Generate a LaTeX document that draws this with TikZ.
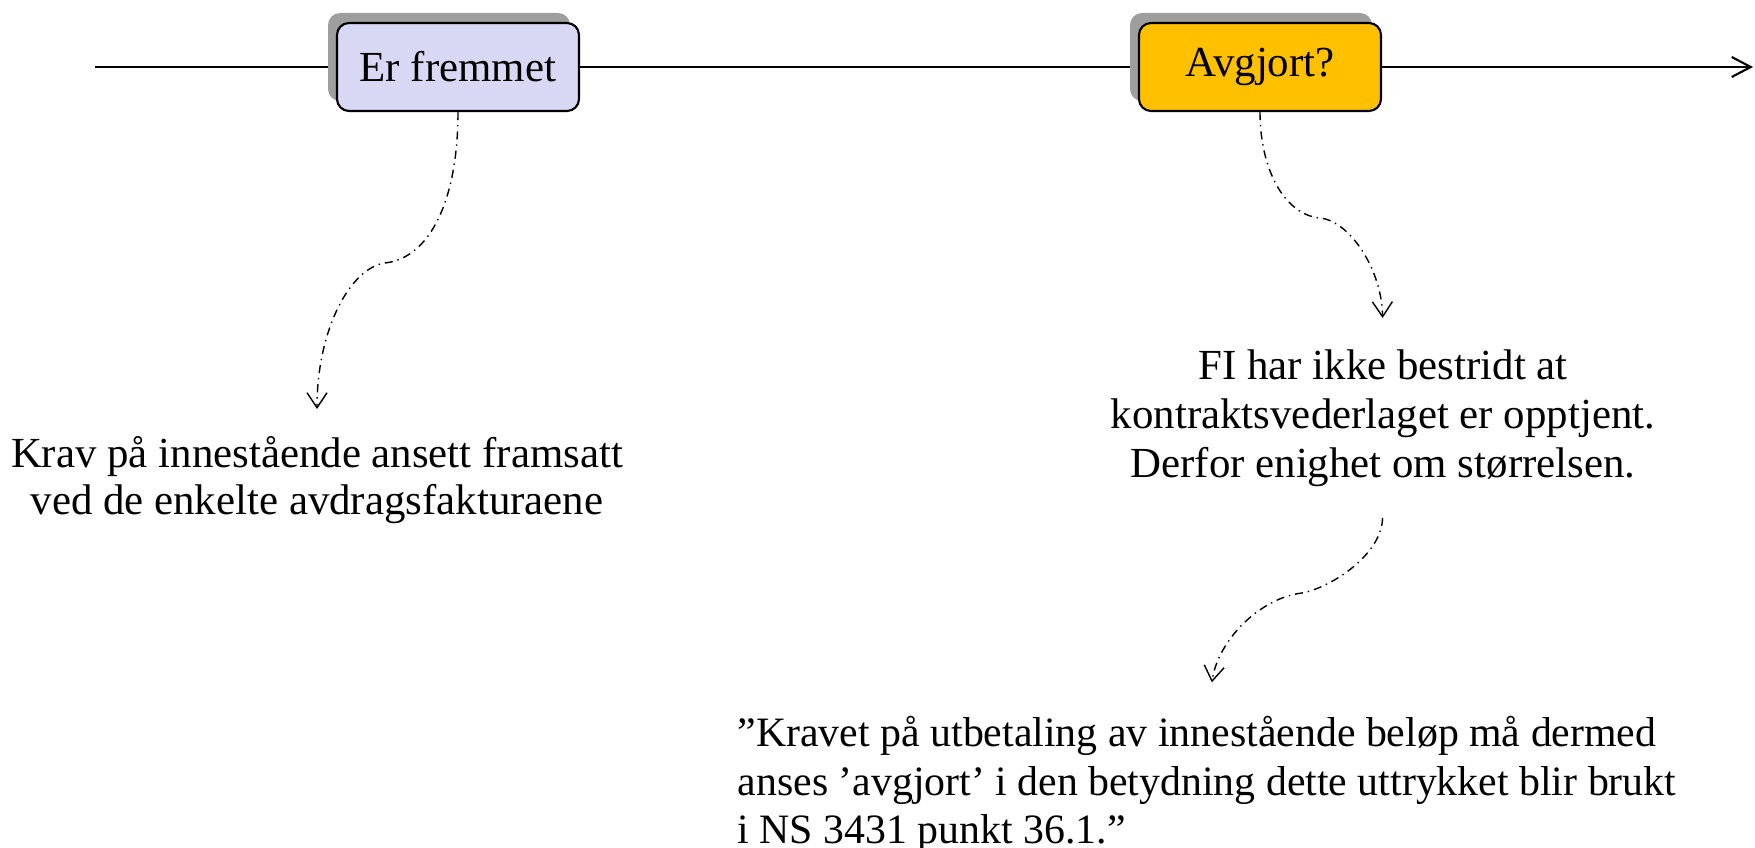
\documentclass[tikz,border=0pt]{standalone}
\usepackage{fontspec}
\setmainfont{Liberation Serif}
\usetikzlibrary{arrows.meta,shadows,backgrounds}
\definecolor{stagelilac}{RGB}{216,216,244}
\definecolor{stagegold}{RGB}{255,192,0}
\tikzset{
  stagebox/.style={draw, line width=0.6pt, rounded corners=1.2mm,
    minimum width=24.2mm, minimum height=8.8mm, inner sep=0pt,
    font=\fontsize{12.2}{12.6}\selectfont,
    general shadow={shadow xshift=-0.9mm, shadow yshift=1mm, fill=black!38}},
  notetext/.style={inner sep=0pt, font=\fontsize{12.2}{13.4}\selectfont},
  noteline/.style={line width=0.4pt,
    dash pattern=on 2.3pt off 1.4pt on 0.4pt off 1.4pt,
    -{Straight Barb[length=1.5mm,width=2mm]}}
}
\begin{document}
\begin{tikzpicture}[x=0.1mm,y=-0.1mm]
\useasboundingbox (0,0) rectangle (1755,848);
\coordinate (start) at (95,67);
\coordinate (end) at (1753,67);
% stages on the time line
\node[stagebox, fill=stagelilac] (fremmet) at (458,67) {Er fremmet};
\node[stagebox, fill=stagegold] (avgjort) at (1260,67) {Avgjort?};
\begin{scope}[on background layer]
\draw[line width=0.6pt] (start) -- (fremmet);
\draw[line width=0.6pt] (fremmet) -- (avgjort);
\draw[line width=0.6pt, -{Straight Barb[length=1.9mm,width=2mm]}] (avgjort) -- (end);
\end{scope}
% notes
\node[notetext, align=center, anchor=north] (krav) at (317,436)
  {Krav på innestående ansett framsatt\\ved de enkelte avdragsfakturaene};
\node[notetext, align=center, anchor=north, font=\fontsize{12.2}{14}\selectfont] (bestridt) at (1383,349)
  {FI har ikke bestridt at\\kontraktsvederlaget er opptjent.\\Derfor enighet om størrelsen.};
\node[notetext, align=left, anchor=north west, font=\fontsize{11.9}{13.8}\selectfont] (sitat) at (737,716)
  {”Kravet på utbetaling av innestående beløp må dermed\\anses ’avgjort’ i den betydning dette uttrykket blir brukt\\i NS 3431 punkt 36.1.”};
\draw[noteline, shorten >=2.7mm] (fremmet.south) .. controls (458,200) and (430,258) .. (385,263)
  .. controls (350,268) and (317,330) .. (krav.north);
\draw[noteline, shorten >=3.1mm] (avgjort.south) .. controls (1260,170) and (1285,215) .. (1320,218)
  .. controls (1350,221) and (1382,270) .. (bestridt.north);
\draw[noteline, shorten <=3.0mm, shorten >=3.4mm] (bestridt.south) .. controls (1382,555) and (1330,588) .. (1302,593)
  .. controls (1260,598) and (1218,640) .. (sitat.north);
\end{tikzpicture}
\end{document}
